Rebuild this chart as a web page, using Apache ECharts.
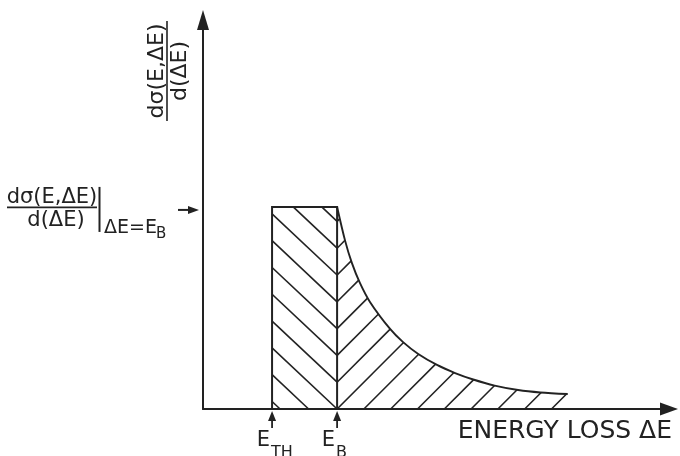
<!DOCTYPE html>
<html>
<head>
<meta charset="utf-8">
<script src="https://cdn.jsdelivr.net/npm/echarts@6/dist/echarts.min.js"></script>
<style>
  html, body { margin: 0; padding: 0; background: #ffffff; }
  #chart { width: 680px; height: 456px; }
</style>
</head>
<body>
<div id="chart"></div>
<script>
// Energy-loss axis (arbitrary units) and the differential cross-section scale
const energyAxisMax = 6.95;
const crossSectionAxisMax = 1.925;

const thresholdEnergy = 1.03;   // E_TH
const bindingEnergy = 2.0;      // E_B
const peakCrossSection = 1.0;   // dσ/d(ΔE) at ΔE = E_B

// Falling tail of the cross section above E_B
const tailEnergy = [2.00, 2.12, 2.22, 2.34, 2.49, 2.79, 2.98, 3.21, 3.49, 3.76, 4.03, 4.35, 4.70, 5.03, 5.44];
const tailCrossSection = [1.000, 0.832, 0.723, 0.624, 0.530, 0.396, 0.332, 0.272, 0.218, 0.178, 0.146, 0.116, 0.094, 0.082, 0.074];

const xAxisTitle = 'ENERGY LOSS ΔE';
const yTitleTop = 'dσ(E,ΔE)';
const yTitleBottom = 'd(ΔE)';
const peakLabelTop = 'dσ(E,ΔE)';
const peakLabelBottom = 'd(ΔE)';
const peakLabelCondition = 'ΔE=E';
const peakLabelConditionSub = 'B';
const energyMarks = [
  { value: thresholdEnergy, main: 'E', sub: 'TH' },
  { value: bindingEnergy, main: 'E', sub: 'B' }
];

const INK = '#222222';
const FONT = '"DejaVu Sans", sans-serif';

function textEl(text, x, y, size, align) {
  const a = align || 'left';
  return {
    type: 'text', x: x, y: y,
    style: {
      text: text, fill: INK, font: size + 'px ' + FONT,
      align: a, textAlign: a, verticalAlign: 'middle', textVerticalAlign: 'middle'
    }
  };
}

function lineEl(x1, y1, x2, y2, w) {
  return { type: 'line', shape: { x1: x1, y1: y1, x2: x2, y2: y2 }, style: { stroke: INK, lineWidth: w || 1.5, lineCap: 'butt' } };
}

function upArrow(x, yTip, len) {
  return [
    lineEl(x, yTip + 6, x, yTip + len, 1.8),
    { type: 'polygon', shape: { points: [[x, yTip], [x - 4, yTip + 10], [x + 4, yTip + 10]] }, style: { fill: INK } }
  ];
}

function renderSketch(params, api) {
  const origin = api.coord([0, 0]);
  const yBase = origin[1];
  const xT = api.coord([thresholdEnergy, 0])[0];
  const xB = api.coord([bindingEnergy, 0])[0];
  const yPeak = api.coord([bindingEnergy, peakCrossSection])[1];
  const curve = tailEnergy.map(function (e, i) { return api.coord([e, tailCrossSection[i]]); });
  const children = [];

  // Herringbone hatching: backward strokes under the flat step, forward strokes under the tail
  const gap = 26.8, slopeL = 0.94, slopeR = 1.0;
  for (let m = -14; m <= 14; m++) {
    const ym = yBase - gap * m;
    const xLo = Math.max(xT, xB + (yPeak - ym) / slopeL);
    const xHi = Math.min(xB, xB + (yBase - ym) / slopeL);
    if (xHi - xLo > 0.5) {
      children.push(lineEl(xLo, ym + slopeL * (xLo - xB), xHi, ym + slopeL * (xHi - xB), 1.6));
    }
    let xs = xB, ys = ym;
    if (ym > yBase) { xs = xB + (ym - yBase) / slopeR; ys = yBase; }
    if (ys <= yPeak) continue;
    const lineY = function (x) { return ym - slopeR * (x - xB); };
    let end = null;
    for (let i = 0; i < curve.length - 1; i++) {
      const x1 = curve[i][0], y1 = curve[i][1], x2 = curve[i + 1][0], y2 = curve[i + 1][1];
      if (x2 <= xs) continue;
      const a = Math.max(x1, xs);
      const ya = y1 + (y2 - y1) * (a - x1) / (x2 - x1);
      const f1 = lineY(a) - ya, f2 = lineY(x2) - y2;
      if (f1 >= 0 && f2 < 0) {
        const xc = a + (f1 / (f1 - f2)) * (x2 - a);
        end = [xc, lineY(xc)];
        break;
      }
    }
    if (!end) {
      const xe = curve[curve.length - 1][0];
      if (xe > xs + 0.5) end = [xe, lineY(xe)];
    }
    if (end) children.push(lineEl(xs, ys, end[0], end[1], 1.6));
  }

  // Outline of the step and the tail curve
  children.push({ type: 'polyline', shape: { points: [[xT, yBase], [xT, yPeak], [xB, yPeak], [xB, yBase]] }, style: { stroke: INK, lineWidth: 2, fill: null } });
  children.push({ type: 'polyline', shape: { points: curve, smooth: 0.3 }, style: { stroke: INK, lineWidth: 1.9, fill: null } });

  // Energy markers under the axis
  energyMarks.forEach(function (mk) {
    const x = api.coord([mk.value, 0])[0];
    upArrow(x, yBase + 2, 17).forEach(function (el) { children.push(el); });
    children.push(textEl(mk.main, x - 2, yBase + 31.5, 21, 'right'));
    children.push(textEl(mk.sub, x - 1, yBase + 44, 16, 'left'));
  });

  // Peak value annotation left of the ordinate
  const yp = yPeak;
  children.push(textEl(peakLabelTop, 52, yp - 9.5, 21, 'center'));
  children.push(lineEl(7, yp + 0.5, 97, yp + 0.5, 1.6));
  children.push(textEl(peakLabelBottom, 56, yp + 14, 21, 'center'));
  children.push(lineEl(99.5, yp - 20, 99.5, yp + 25, 2));
  children.push(textEl(peakLabelCondition, 104, yp + 21, 19, 'left'));
  children.push(textEl(peakLabelConditionSub, 156, yp + 27.5, 15, 'left'));
  children.push(lineEl(178, yp + 3, 190, yp + 3, 2));
  children.push({ type: 'polygon', shape: { points: [[199, yp + 3], [188, yp - 1], [188, yp + 7]] }, style: { fill: INK } });

  return { type: 'group', children: children };
}

const chart = echarts.init(document.getElementById('chart'), null, { renderer: 'canvas' });
chart.setOption({
  animation: false,
  backgroundColor: '#ffffff',
  grid: { left: 203, right: 11, top: 20, bottom: 47, containLabel: false },
  xAxis: {
    type: 'value', min: 0, max: energyAxisMax,
    axisLine: { show: true, symbol: ['none', 'triangle'], symbolSize: [13, 18], lineStyle: { color: INK, width: 2 } },
    axisTick: { show: false }, axisLabel: { show: false }, splitLine: { show: false }
  },
  yAxis: {
    type: 'value', min: 0, max: crossSectionAxisMax,
    axisLine: { show: true, symbol: ['none', 'triangle'], symbolSize: [12, 20], lineStyle: { color: INK, width: 2 } },
    axisTick: { show: false }, axisLabel: { show: false }, splitLine: { show: false }
  },
  graphic: [
    {
      type: 'group', x: 167, y: 71, rotation: Math.PI / 2,
      children: [
        { type: 'text', x: 0, y: -10, style: { text: yTitleTop, fill: INK, font: '22px ' + FONT, align: 'center', textAlign: 'center', verticalAlign: 'middle', textVerticalAlign: 'middle' } },
        { type: 'line', shape: { x1: -50, y1: 0, x2: 50, y2: 0 }, style: { stroke: INK, lineWidth: 1.6 } },
        { type: 'text', x: 0, y: 13, style: { text: yTitleBottom, fill: INK, font: '22px ' + FONT, align: 'center', textAlign: 'center', verticalAlign: 'middle', textVerticalAlign: 'middle' } }
      ]
    },
    {
      type: 'text', x: 672, y: 431,
      style: { text: xAxisTitle, fill: INK, font: '25px ' + FONT, align: 'right', textAlign: 'right', verticalAlign: 'middle', textVerticalAlign: 'middle' }
    }
  ],
  series: [{
    type: 'custom',
    coordinateSystem: 'cartesian2d',
    clip: false,
    silent: true,
    data: [[bindingEnergy, peakCrossSection]],
    renderItem: renderSketch
  }]
});
</script>
</body>
</html>
